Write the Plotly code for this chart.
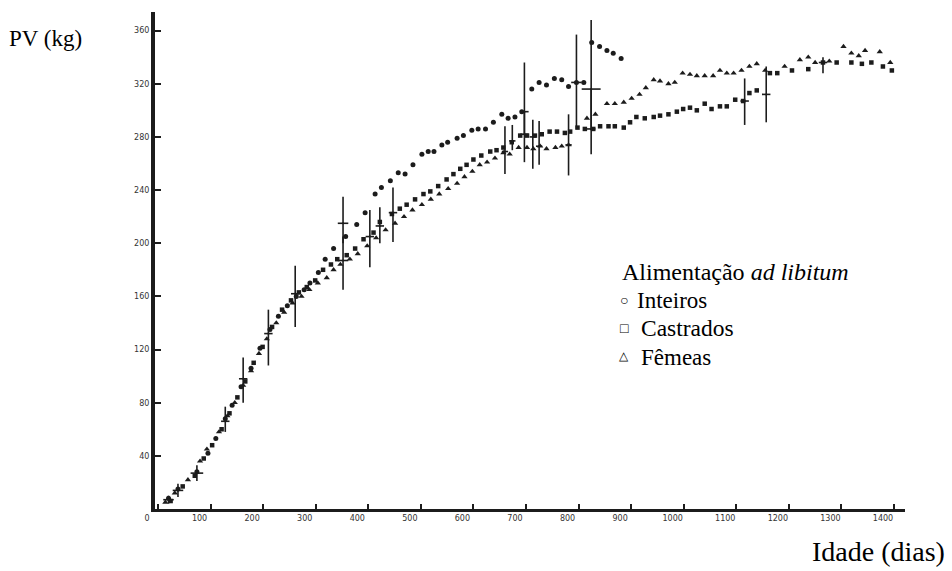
import plotly.graph_objects as go

# ---- data (age in days, live weight in kg) ----
inteiros_dias = [20, 38, 74, 95, 110, 128, 141, 158, 177, 194, 213, 229, 246, 263, 278, 289, 305, 318, 334, 357,
                 378, 394, 413, 425, 442, 457, 470, 485, 502, 514, 525, 540, 551, 569, 581, 597, 609, 623, 638, 654,
                 666, 679, 692, 711, 725, 739, 754, 768, 781, 796, 810, 825, 840, 854, 866, 881]
inteiros_pv = [8, 15, 28, 42, 53, 68, 78, 92, 106, 121, 135, 145, 153, 160, 165, 170, 178, 188, 196, 205,
               214, 223, 237, 242, 247, 253, 252, 259, 267, 269, 269, 274, 276, 279, 281, 285, 286, 286, 291, 297,
               294, 295, 299, 316, 321, 319, 324, 323, 318, 321, 321, 351, 348, 345, 343, 339]

castrados_dias = [24, 47, 70, 87, 103, 121, 136, 151, 166, 182, 199, 217, 236, 253, 268, 283, 299, 314, 329, 341,
                  359, 375, 391, 410, 422, 445, 460, 473, 489, 505, 518, 533, 549, 562, 575, 587, 600, 615, 632, 644,
                  657, 673, 689, 702, 717, 730, 745, 759, 774, 784, 798, 812, 828, 841, 857, 869, 886, 898, 910, 926,
                  943, 955, 971, 987, 999, 1012, 1025, 1040, 1053, 1069, 1082, 1098, 1113, 1125, 1139, 1164, 1178,
                  1206, 1237, 1265, 1291, 1319, 1339, 1357, 1379, 1396]
castrados_pv = [6, 17, 25, 38, 48, 60, 72, 84, 96, 110, 122, 137, 150, 157, 163, 167, 172, 180, 184, 188,
                191, 196, 203, 208, 216, 222, 226, 229, 233, 237, 239, 243, 248, 252, 256, 259, 263, 266, 269, 270,
                272, 276, 281, 281, 281, 282, 284, 284, 283, 284, 287, 286, 286, 288, 288, 288, 287, 291, 295, 294,
                295, 296, 297, 299, 301, 302, 300, 305, 301, 303, 303, 308, 307, 313, 315, 328, 328,
                330, 331, 336, 336, 336, 335, 336, 333, 330]

femeas_dias = [14, 32, 57, 80, 93, 116, 132, 146, 162, 177, 192, 207, 225, 240, 256, 273, 288, 304, 321, 334,
               347, 365, 380, 398, 415, 433, 451, 468, 484, 502, 519, 535, 552, 569, 583, 598, 612, 626, 641, 657,
               669, 686, 702, 714, 727, 739, 756, 768, 781, 816, 832, 854, 869, 886, 901, 916, 928, 943, 955, 971,
               983, 998, 1012, 1025, 1040, 1056, 1069, 1082, 1095, 1110, 1125, 1139, 1155, 1192, 1221, 1237, 1250,
               1277, 1304, 1319, 1333, 1345, 1373, 1393]
femeas_pv = [5, 12, 22, 36, 45, 58, 70, 80, 93, 104, 117, 128, 140, 148, 155, 160, 165, 170, 174, 180,
             184, 188, 192, 198, 204, 210, 215, 220, 225, 229, 233, 237, 241, 245, 250, 254, 259, 261, 264, 268,
             267, 272, 272, 271, 273, 271, 272, 273, 274, 294, 297, 305, 305, 306, 309, 312, 317, 323, 322, 320,
             321, 328, 327, 326, 326, 326, 330, 328, 328, 330, 333, 335, 330, 333, 338, 340, 336,
             337, 348, 343, 341, 345, 344, 336]

# error bars (age, mean, low, high, half-width of cross in days)
eb_dias = [20, 38, 74, 128, 162, 210, 261, 352, 352, 403, 422, 447, 660, 674, 697, 697, 713, 725, 781, 796,
           824, 824, 1116, 1157, 1265]
eb_media = [7, 14, 27, 66, 98, 132, 162, 215, 187, 205, 213, 223, 269, 277, 299, 282, 280, 273, 274, 321,
            316, 286, 307, 312, 336]
eb_min = [4, 9, 21, 58, 80, 108, 137, 200, 165, 182, 200, 201, 252, 270, 282, 261, 256, 259, 251, 286,
          285, 267, 289, 291, 328]
eb_max = [10, 19, 33, 77, 114, 150, 183, 235, 205, 225, 227, 242, 288, 289, 336, 299, 293, 292, 297, 357,
          368, 316, 324, 333, 340]
eb_meia = [10, 10, 12, 8, 8, 8, 8, 10, 10, 8, 8, 8, 6, 6, 8, 8, 6, 6, 6, 10, 18, 8, 8, 8, 8]

x_ticks = list(range(0, 1500, 100))
y_ticks = list(range(40, 400, 40))

INK = "#1c1c1c"
fig = go.Figure()

series = [
    (inteiros_dias, inteiros_pv, "circle", 5, "Inteiros"),
    (castrados_dias, castrados_pv, "square", 4.5, "Castrados"),
    (femeas_dias, femeas_pv, "triangle-up", 5.5, "Fêmeas"),
]
for xs, ys, sym, sz, name in series:
    fig.add_trace(go.Scatter(
        x=xs, y=ys, mode="markers", name=name, showlegend=False,
        marker=dict(symbol=sym, size=sz, color=INK, line=dict(width=0)),
    ))

fig.add_trace(go.Scatter(
    x=eb_dias, y=eb_media, mode="markers", showlegend=False,
    marker=dict(size=2, color=INK),
    error_y=dict(type="data", symmetric=False,
                 array=[h - m for h, m in zip(eb_max, eb_media)],
                 arrayminus=[m - l for m, l in zip(eb_media, eb_min)],
                 color=INK, thickness=1.6, width=0),
    error_x=dict(type="data", array=eb_meia, color=INK, thickness=1.6, width=0),
))

L, R, T, B = 155, 47, 12, 62
W, H = 952, 571
pw, ph = W - L - R, H - T - B


def px(xp):
    return (xp - L) / pw


def py(yp):
    return (H - B - yp) / ph


serif = "Liberation Serif"
ann = [
    dict(text="PV (kg)", x=px(7), y=py(38), xanchor="left", yanchor="middle", font=dict(size=23)),
    dict(text="Idade (dias)", x=px(810), y=py(551), xanchor="left", yanchor="middle", font=dict(size=28)),
    dict(text="Alimentação <i>ad libitum</i>", x=px(620), y=py(272), xanchor="left", yanchor="middle",
         font=dict(size=24)),
    dict(text="○", x=px(624), y=py(300), xanchor="center", yanchor="middle", font=dict(size=14)),
    dict(text="Inteiros", x=px(635), y=py(300), xanchor="left", yanchor="middle", font=dict(size=23)),
    dict(text="□", x=px(624), y=py(328), xanchor="center", yanchor="middle", font=dict(size=14)),
    dict(text="Castrados", x=px(639), y=py(328), xanchor="left", yanchor="middle", font=dict(size=23.5)),
    dict(text="△", x=px(624), y=py(356), xanchor="center", yanchor="middle", font=dict(size=12)),
    dict(text="Fêmeas", x=px(639), y=py(357), xanchor="left", yanchor="middle", font=dict(size=23)),
]
for a in ann:
    a.update(xref="paper", yref="paper", showarrow=False)
    a["font"].update(family=serif, color="#000")

fig.update_layout(
    width=W, height=H,
    margin=dict(l=L, r=R, t=T, b=B),
    paper_bgcolor="white", plot_bgcolor="white",
    annotations=ann,
    xaxis=dict(range=[-5.7, 1421], tickmode="array", tickvals=x_ticks, ticktext=[str(v) for v in x_ticks],
               showgrid=False, zeroline=False, showline=True, linewidth=2.5, linecolor=INK,
               ticks="inside", ticklen=5, tickwidth=1.5, tickcolor=INK, ticklabelshift=-11,
               tickfont=dict(family="DejaVu Sans", size=8, color="#333")),
    yaxis=dict(range=[0, 374], tickmode="array", tickvals=y_ticks, ticktext=[str(v) for v in y_ticks],
               showgrid=False, zeroline=False, showline=True, linewidth=4, linecolor=INK,
               ticks="inside", ticklen=6, tickwidth=1.5, tickcolor=INK,
               tickfont=dict(family="DejaVu Sans", size=8, color="#333")),
)

fig.write_html("out.html", config={"displayModeBar": False},
               post_script="document.body.style.margin='0px';")
